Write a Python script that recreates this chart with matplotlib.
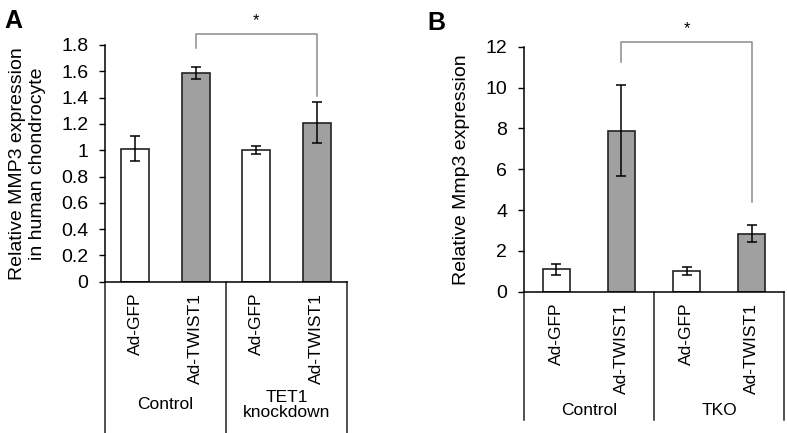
import matplotlib
matplotlib.use("Agg")
import matplotlib.pyplot as plt

plt.rcParams['font.family'] = ['Liberation Sans', 'DejaVu Sans']

treatments = ["Ad-GFP", "Ad-TWIST1", "Ad-GFP", "Ad-TWIST1"]

# panel A: human chondrocyte
a_groups = ["Control", "TET1\nknockdown"]
a_vals = [1.01, 1.59, 1.00, 1.21]
a_errs = [0.095, 0.045, 0.03, 0.155]

# panel B: mouse
b_groups = ["Control", "TKO"]
b_vals = [1.10, 7.88, 1.03, 2.84]
b_errs = [0.27, 2.23, 0.19, 0.41]

colors = ["white", "#a0a0a0", "white", "#a0a0a0"]


def draw_panel(ax, vals, errs, groups, ylim, yticks, ylabel, width,
               line_bottom, group_y, bracket):
    x = range(len(vals))
    ax.bar(x, vals, width=width, color=colors, edgecolor="#222222", linewidth=1.2,
           yerr=errs, error_kw=dict(ecolor="black", capsize=3.5, elinewidth=1.1, capthick=1.1))
    ax.set_xlim(-0.5, len(vals) - 0.5)
    ax.set_ylim(*ylim)
    ax.set_yticks(yticks)
    ax.set_yticklabels([("%g" % t) for t in yticks], fontsize=14)
    ax.tick_params(axis="y", length=4, width=1, direction="out", pad=8)
    ax.set_xticks(list(x))
    ax.set_xticklabels(treatments, rotation=90, fontsize=12.5, va="top")
    ax.tick_params(axis="x", length=0, pad=8)
    for s in ["top", "right"]:
        ax.spines[s].set_visible(False)
    ax.spines["left"].set_linewidth(1.1)
    ax.spines["bottom"].set_linewidth(1.1)
    ax.set_ylabel(ylabel, fontsize=14, labelpad=11)

    # category table lines below the axis
    trans = ax.get_xaxis_transform()
    for xs in [-0.5, 1.5, 3.5]:
        ax.plot([xs, xs], [0, line_bottom], transform=trans, color="#222222",
                lw=1.1, clip_on=False)
    for i, g in enumerate(groups):
        ax.text(2 * i + 0.5, group_y, g, transform=trans, ha="center", va="center",
                fontsize=12.5, linespacing=1.05)

    # significance bracket
    top, left_end, right_end = bracket
    ax.plot([1, 1, 3, 3], [left_end, top, top, right_end], color="#8c8c8c",
            lw=1.1, clip_on=False)
    ax.text(2, top + (ylim[1] - ylim[0]) * 0.025, "*", ha="center", va="bottom",
            fontsize=12, clip_on=False)


fig = plt.figure(figsize=(7.87, 4.33), dpi=100)

ax1 = fig.add_axes([0.1334, 0.3494, 0.3075, 0.5467])
draw_panel(ax1, a_vals, a_errs, a_groups, (0, 1.8),
           [0, 0.2, 0.4, 0.6, 0.8, 1, 1.2, 1.4, 1.6, 1.8],
           "Relative MMP3 expression\nin human chondrocyte", 0.46,
           -0.64, -0.52, (1.88, 1.775, 1.41))

ax2 = fig.add_axes([0.6658, 0.3263, 0.3304, 0.5658])
draw_panel(ax2, b_vals, b_errs, b_groups, (0, 12),
           [0, 2, 4, 6, 8, 10, 12],
           "Relative Mmp3 expression", 0.42,
           -0.524, -0.483, (12.24, 11.27, 4.38))

fig.text(0.006, 0.98, "A", fontsize=18, fontweight="bold", va="top")
fig.text(0.543, 0.975, "B", fontsize=18, fontweight="bold", va="top")

fig.savefig("out.png", dpi=100)
